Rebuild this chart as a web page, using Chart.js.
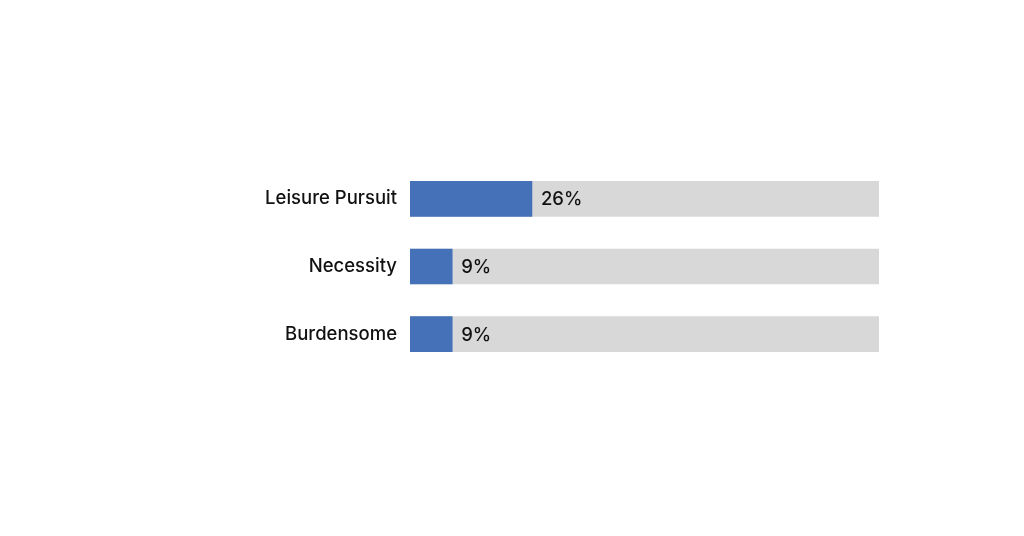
<!DOCTYPE html>
<html>
<head>
<meta charset="utf-8">
<script src="https://cdn.jsdelivr.net/npm/chart.js@4"></script>
<style>
  html, body { margin: 0; padding: 0; background: #ffffff; }
  #wrap { width: 1024px; height: 536px; }
</style>
</head>
<body>
<div id="wrap"><canvas id="chart"></canvas></div>
<script>
// Datos del gráfico
const categories = ['Leisure Pursuit', 'Necessity', 'Burdensome'];
const shares = [26, 9, 9];
const totals = [100, 100, 100];

const FONT = 'Inter, "Open Sans", sans-serif';

// Etiquetas de valor a la derecha de la barra azul
const valueLabels = {
    id: 'valueLabels',
    afterDatasetsDraw(chart) {
        const ctx = chart.ctx;
        const meta = chart.getDatasetMeta(0);
        const xScale = chart.scales.x;
        ctx.save();
        ctx.font = '500 18.5px ' + FONT;
        ctx.fillStyle = '#111111';
        ctx.textAlign = 'left';
        ctx.textBaseline = 'middle';
        meta.data.forEach(function(bar, i) {
            const x = xScale.getPixelForValue(shares[i]) + 9;
            ctx.fillText(shares[i] + '%', x, bar.y + 1);
        });
        ctx.restore();
    }
};

new Chart(document.getElementById('chart').getContext('2d'), {
    type: 'bar',
    data: {
        labels: categories,
        datasets: [
            {
                data: shares,
                backgroundColor: '#4571b8',
                barThickness: 35,
                grouped: false
            },
            {
                data: totals,
                backgroundColor: '#d8d8d8',
                barThickness: 35,
                grouped: false
            }
        ]
    },
    options: {
        indexAxis: 'y',
        responsive: true,
        maintainAspectRatio: false,
        animation: false,
        layout: { padding: { top: 165, bottom: 168, left: 0, right: 145 } },
        plugins: {
            legend: { display: false },
            tooltip: { enabled: false }
        },
        scales: {
            x: {
                display: false,
                min: 0,
                max: 100
            },
            y: {
                grid: { display: false, drawTicks: false },
                border: { display: false },
                ticks: {
                    padding: 13,
                    color: '#111111',
                    font: { family: FONT, size: 18.5, weight: '500' }
                },
                afterFit(scale) { scale.width = 410; }
            }
        }
    },
    plugins: [valueLabels]
});
</script>
</body>
</html>
